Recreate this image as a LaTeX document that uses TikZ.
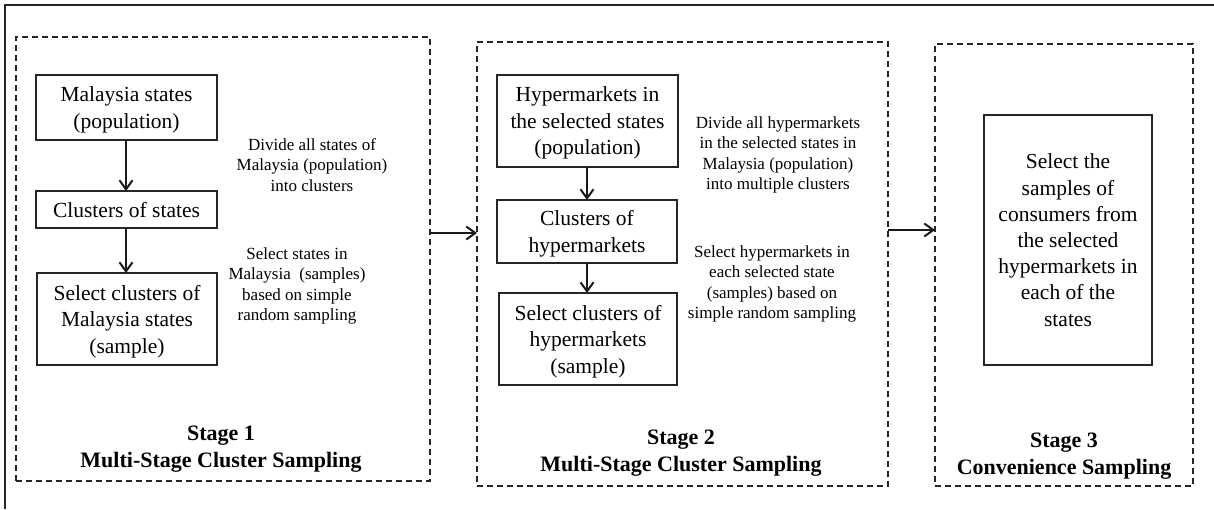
\documentclass[tikz,border=0pt]{standalone}
\usepackage{fontspec}
\setmainfont{Liberation Serif}
\usetikzlibrary{arrows.meta}

\tikzset{
  frame/.style={line width=2pt, draw=black!85},
  stagebox/.style={draw=black!85, line width=1.3pt, dash pattern=on 6pt off 4pt,
    inner sep=0pt, outer sep=0pt},
  box/.style={draw=black!85, line width=1.6pt, align=center, inner sep=0pt,
    outer sep=0pt, text depth=-4pt, font=\fontsize{21.5}{26.5}\selectfont},
  note/.style={align=center, inner sep=0pt, font=\fontsize{17}{20.5}\selectfont},
  stagetitle/.style={align=center, inner sep=0pt, font=\fontsize{22}{27}\selectfont\bfseries},
  flow/.style={line width=2pt, draw=black!90, -{Straight Barb[length=9pt,width=13pt]}}
}

\begin{document}
\begin{tikzpicture}[x=1pt, y=-1pt]
\useasboundingbox (0,0) rectangle (1214,509);

% page frame (top and left edges)
\draw[frame] (5,509) -- (5,5) -- (1214,5);

% stage containers
\node[stagebox, minimum width=414pt, minimum height=444pt] (st1) at (223,259) {};
\node[stagebox, minimum width=411pt, minimum height=444pt] (st2) at (682.5,264) {};
\node[stagebox, minimum width=258pt, minimum height=442pt] (st3) at (1064,265) {};

% stage 1
\node[box, minimum width=181pt, minimum height=65pt] (b1a) at (126.5,107.5) {Malaysia states\\(population)};
\node[box, text depth=-8pt, minimum width=181pt, minimum height=37pt] (b1b) at (126.5,209.5) {Clusters of states};
\node[box, minimum width=180pt, minimum height=92pt] (b1c) at (127,319) {Select clusters of\\Malaysia states\\(sample)};
\draw[flow] (b1a.south -| 126,0) -- (b1b.north -| 126,0);
\draw[flow] (b1b.south -| 126,0) -- (b1c.north -| 126,0);
\node[note] (n1a) at (312,165) {Divide all states of\\Malaysia (population)\\into clusters};
\node[note] (n1b) at (297,286) {Select states in\\Malaysia~ (samples)\\based on simple\\random sampling};
\node[stagetitle] (t1) at (221,449) {Stage 1\\Multi-Stage Cluster Sampling};

% stage 2
\node[box, minimum width=181pt, minimum height=92pt] (b2a) at (587.5,121) {Hypermarkets in\\the selected states\\(population)};
\node[box, minimum width=180pt, minimum height=63pt] (b2b) at (587,231.5) {Clusters of\\hypermarkets};
\node[box, minimum width=178pt, minimum height=92pt] (b2c) at (588,339) {Select clusters of\\hypermarkets\\(sample)};
\draw[flow] (b2a.south -| 587,0) -- (b2b.north -| 587,0);
\draw[flow] (b2b.south -| 587,0) -- (b2c.north -| 587,0);
\node[note] (n2a) at (778,155) {Divide all hypermarkets\\in the selected states in\\Malaysia (population)\\into multiple clusters};
\node[note] (n2b) at (772,284) {Select hypermarkets in\\each selected state\\(samples) based on\\simple random sampling};
\node[stagetitle] (t2) at (681,453.5) {Stage 2\\Multi-Stage Cluster Sampling};

% stage 3
\node[box, minimum width=168pt, minimum height=250pt, font=\fontsize{21.5}{26.2}\selectfont] (b3) at (1068,240)
  {Select the\\samples of\\consumers from\\the selected\\hypermarkets in\\each of the\\states};
\node[stagetitle] (t3) at (1064,456) {Stage 3\\Convenience Sampling};

% links between stages
\draw[flow] (st1.east |- 0,233) -- (st2.west |- 0,233);
\draw[flow] (st2.east |- 0,230) -- (st3.west |- 0,230);
\end{tikzpicture}
\end{document}
